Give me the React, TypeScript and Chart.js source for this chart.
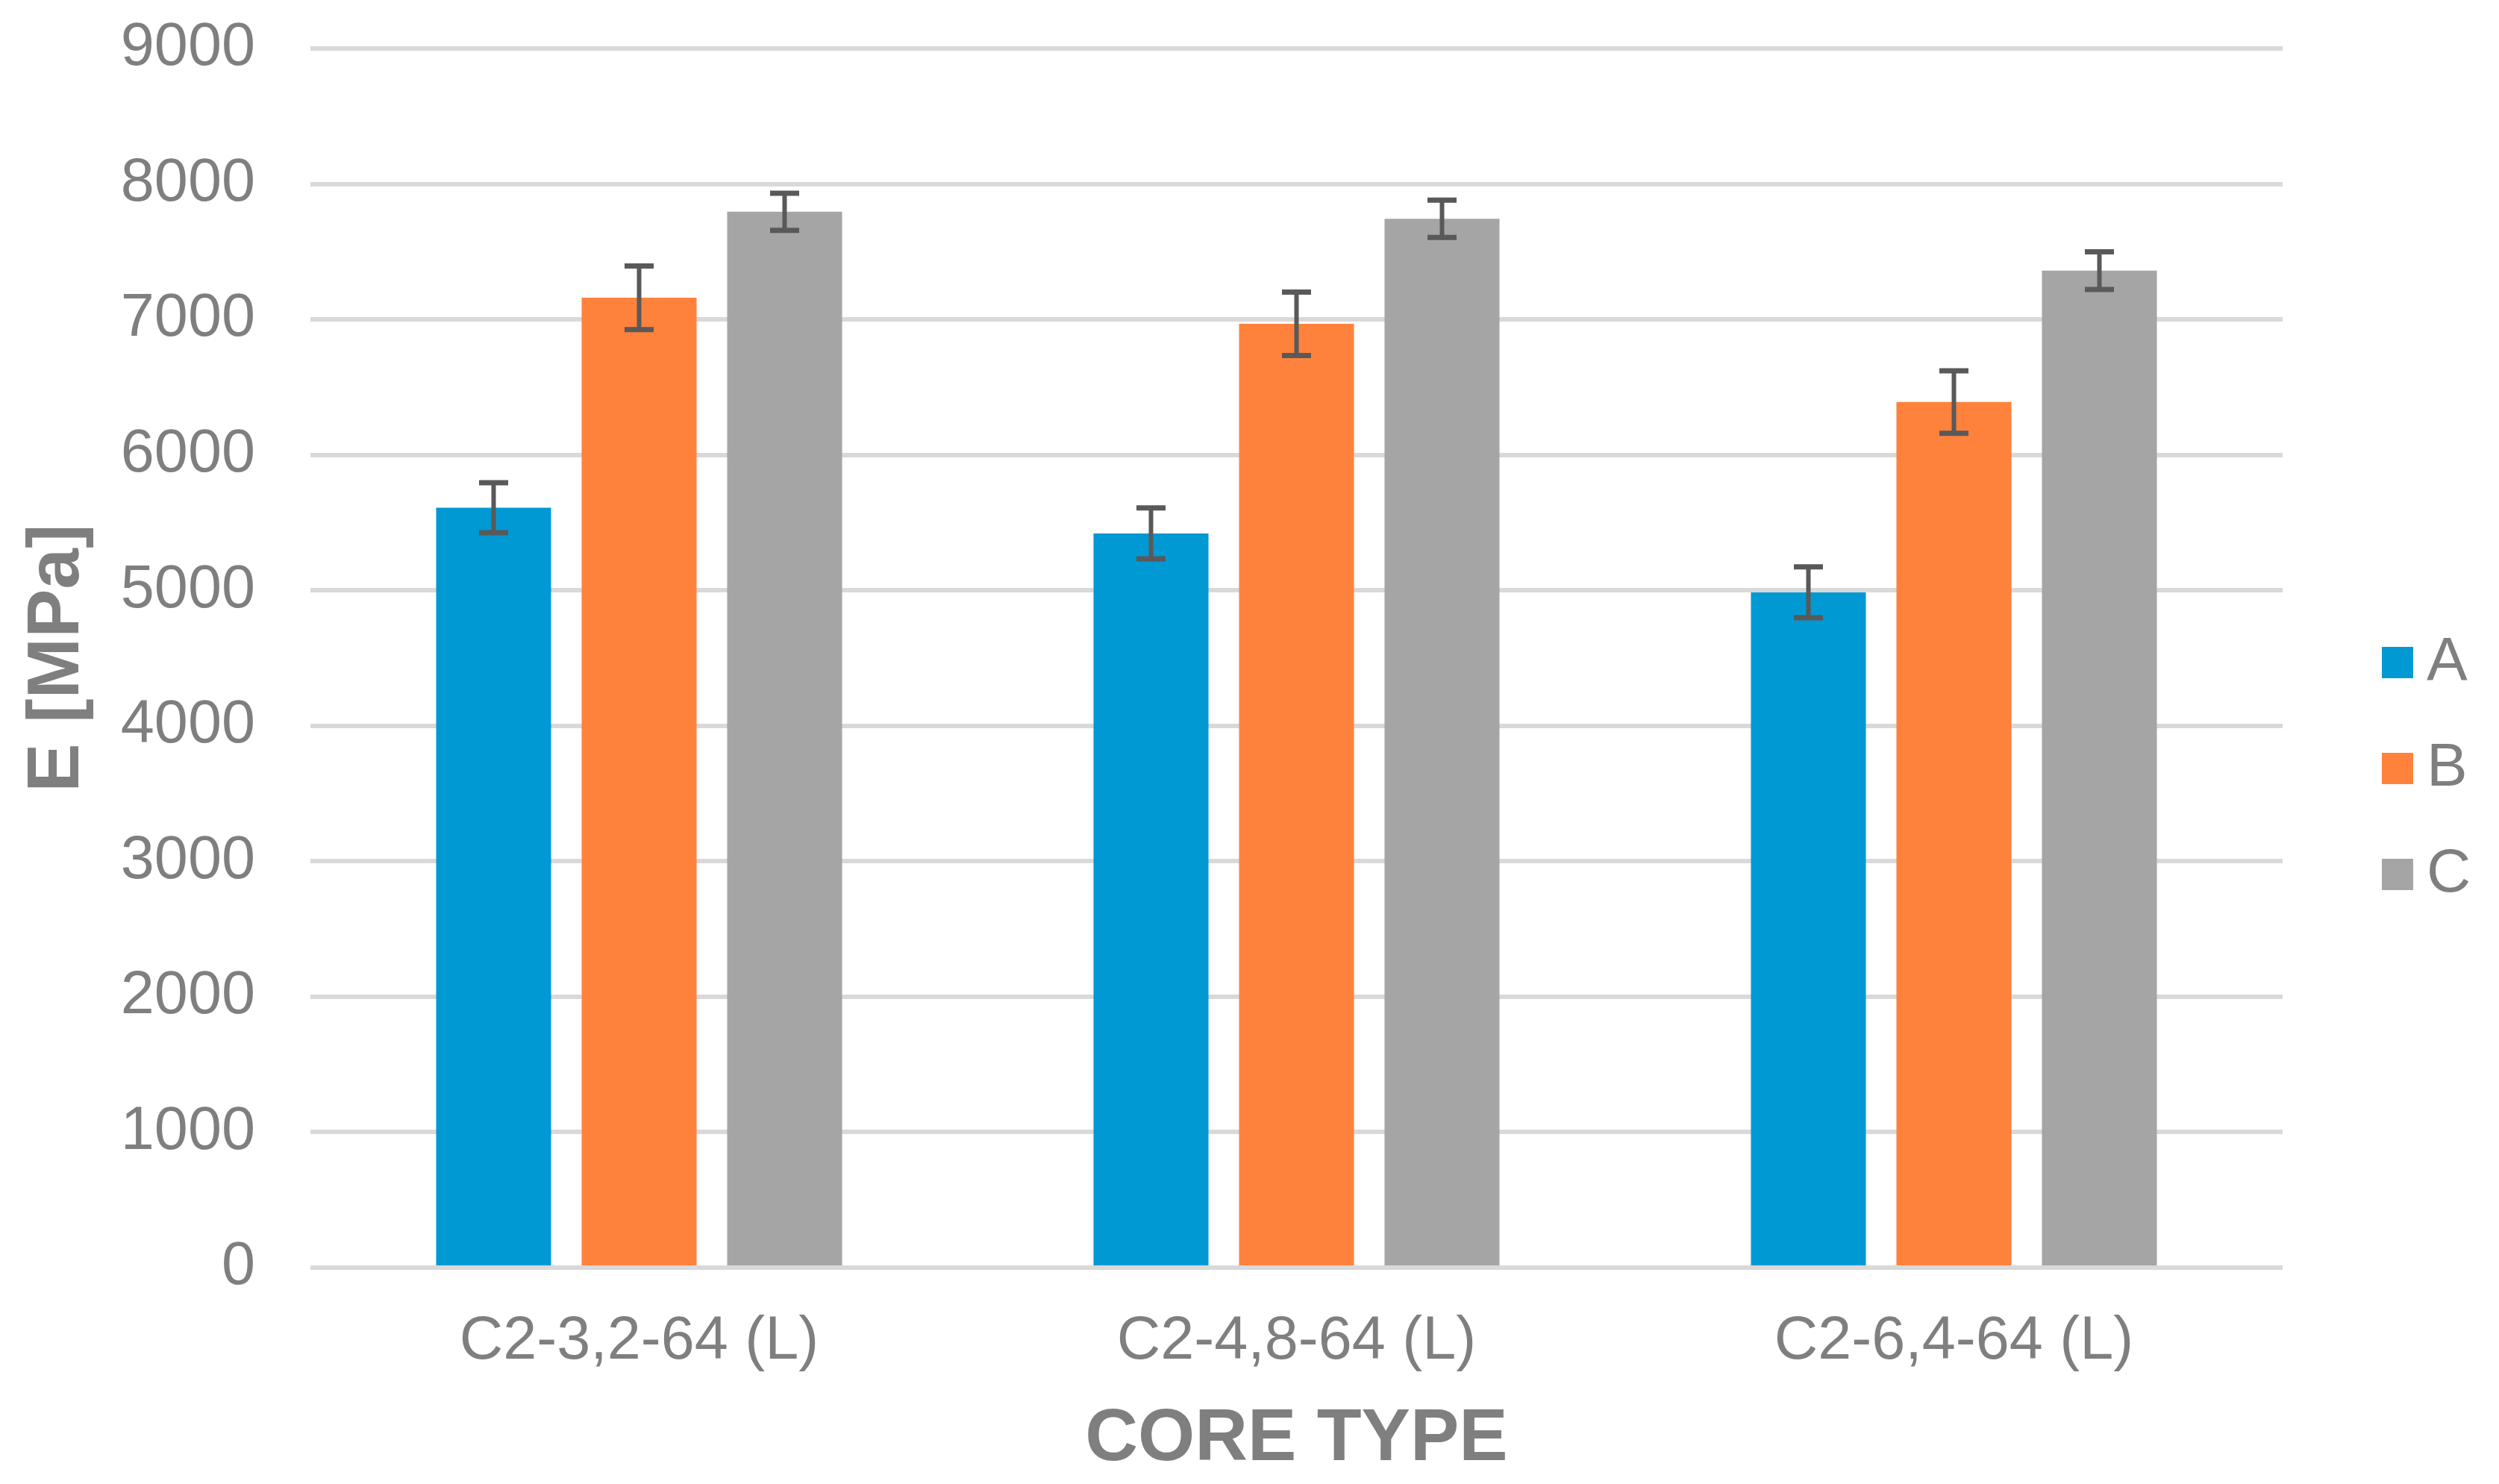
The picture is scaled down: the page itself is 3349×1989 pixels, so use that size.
import React, { useEffect, useRef } from "react";
import { Chart, registerables } from "chart.js";

Chart.register(...registerables);

const categories = ["C2-3,2-64 (L)", "C2-4,8-64 (L)", "C2-6,4-64 (L)"];
const seriesNames = ["A", "B", "C"];
const valuesA = [5610, 5420, 4985];
const valuesB = [7160, 6968, 6390];
const valuesC = [7795, 7743, 7360];
const errorsA = [185, 188, 188];
const errorsB = [235, 234, 231];
const errorsC = [137, 138, 139];
const yTicks = [0, 1000, 2000, 3000, 4000, 5000, 6000, 7000, 8000, 9000];

const seriesColors = ["#0099D3", "#FF823C", "#A5A5A5"];
const textColor = "#7F7F7F";
const fontFamily = "'Liberation Sans', Arial, sans-serif";

const errorSeries = [errorsA, errorsB, errorsC];

const errorBarPlugin = {
  id: "errorBars",
  afterDatasetsDraw(chart: any) {
    const ctx = chart.ctx;
    const yScale = chart.scales.y;
    chart.data.datasets.forEach((ds: any, i: number) => {
      const meta = chart.getDatasetMeta(i);
      const errs = errorSeries[i];
      meta.data.forEach((bar: any, j: number) => {
        const v = ds.data[j];
        const e = errs[j];
        const x = bar.x;
        const yt = yScale.getPixelForValue(v + e);
        const yb = yScale.getPixelForValue(v - e);
        const half = 19.5;
        ctx.save();
        ctx.strokeStyle = "#595959";
        ctx.lineWidth = 6;
        ctx.beginPath();
        ctx.moveTo(x, yt);
        ctx.lineTo(x, yb);
        ctx.stroke();
        ctx.lineWidth = 7;
        ctx.beginPath();
        ctx.moveTo(x - half, yt);
        ctx.lineTo(x + half, yt);
        ctx.moveTo(x - half, yb);
        ctx.lineTo(x + half, yb);
        ctx.stroke();
        ctx.restore();
      });
    });
  },
};

const legendPlugin = {
  id: "sideLegend",
  afterDraw(chart: any) {
    const ctx = chart.ctx;
    const boxX = 3192;
    const box = 42;
    const firstY = 888;
    const step = 142;
    ctx.save();
    chart.data.datasets.forEach((ds: any, i: number) => {
      const cy = firstY + i * step;
      ctx.fillStyle = ds.backgroundColor;
      ctx.fillRect(boxX, cy - box / 2, box, box);
      ctx.fillStyle = textColor;
      ctx.font = `82px ${fontFamily}`;
      ctx.textAlign = "left";
      ctx.textBaseline = "middle";
      ctx.fillText(ds.label, boxX + box + 18, cy);
    });
    ctx.restore();
  },
};

export default function App() {
  const canvasRef = useRef<HTMLCanvasElement | null>(null);

  useEffect(() => {
    document.body.style.margin = "0";
    const canvas = canvasRef.current;
    if (!canvas) return;
    const valueSets = [valuesA, valuesB, valuesC];
    const chart = new Chart(canvas, {
      type: "bar",
      data: {
        labels: categories,
        datasets: seriesNames.map((name, i) => ({
          label: name,
          data: valueSets[i],
          backgroundColor: seriesColors[i],
          borderWidth: 0,
          categoryPercentage: 0.664,
          barPercentage: 0.79,
        })),
      },
      options: {
        animation: false,
        responsive: false,
        devicePixelRatio: 1,
        layout: { padding: { left: 0, right: 290, top: 65, bottom: 0 } },
        plugins: {
          legend: { display: false },
          tooltip: { enabled: false },
        },
        scales: {
          x: {
            grid: { display: false, drawTicks: false },
            border: { display: false },
            ticks: {
              color: textColor,
              font: { family: fontFamily, size: 81 },
              padding: 51,
            },
            title: {
              display: true,
              text: "CORE TYPE",
              color: textColor,
              font: { family: fontFamily, size: 98, weight: "bold" },
              padding: { top: 0, bottom: 0 },
            },
            afterFit(scale: any) {
              scale.height = 290;
            },
          },
          y: {
            min: 0,
            max: 9000,
            grid: { color: "#D9D9D9", lineWidth: 6, drawTicks: false },
            border: { display: false },
            afterBuildTicks(scale: any) {
              scale.ticks = yTicks.map((v) => ({ value: v }));
            },
            ticks: {
              color: textColor,
              font: { family: fontFamily, size: 81 },
              padding: 74,
              callback: (value: any) => String(value),
            },
            title: {
              display: true,
              text: "E [MPa]",
              color: textColor,
              font: { family: fontFamily, size: 98, weight: "bold" },
              padding: { top: 19, bottom: 0 },
            },
            afterFit(scale: any) {
              scale.width = 416;
              scale.paddingTop = 0;
              scale.paddingBottom = 0;
            },
          },
        },
      },
      plugins: [errorBarPlugin, legendPlugin],
    });
    return () => chart.destroy();
  }, []);

  return (
    <div style={{ width: 3349, height: 1989 }}>
      <canvas ref={canvasRef} width={3349} height={1989} style={{ width: 3349, height: 1989, display: "block" }} />
    </div>
  );
}
